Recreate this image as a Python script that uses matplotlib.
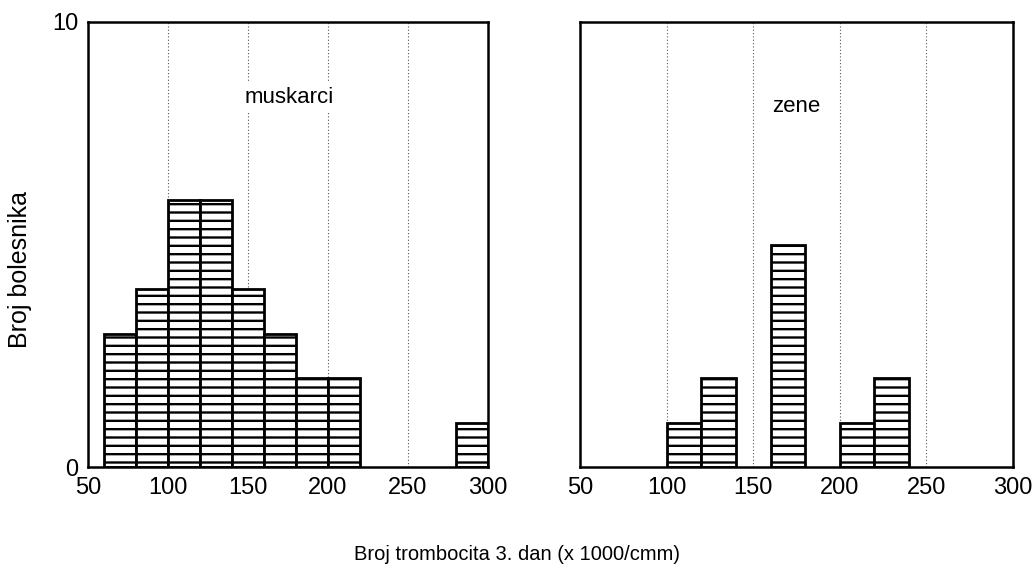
import matplotlib.pyplot as plt
import numpy as np

plt.rcParams['font.family'] = ['Liberation Sans', 'DejaVu Sans']
plt.rcParams['hatch.linewidth'] = 1.7

# bin left edges (x 1000/cmm), width 20
bin_width = 20
men_bins = [60, 80, 100, 120, 140, 160, 180, 200, 280]
men_counts = [3, 4, 6, 6, 4, 3, 2, 2, 1]
women_bins = [100, 120, 160, 200, 220]
women_counts = [1, 2, 5, 1, 2]
xticks = [50, 100, 150, 200, 250, 300]
grid_x = [100, 150, 200, 250]

fig = plt.figure(figsize=(10.34, 5.81), dpi=100)
a1 = fig.add_axes([88/1034, 1-467/581, 400/1034, 445/581])
a2 = fig.add_axes([580/1034, 1-467/581, 433/1034, 445/581])

def panel(ax, bins, counts, label, lx, ly):
    for gx in grid_x:
        ax.axvline(gx, color='#555555', lw=0.8, ls=(0, (1, 2)), zorder=0)
    ax.bar(bins, counts, width=bin_width, align='edge', color='white',
           edgecolor='black', linewidth=2, hatch='--', zorder=2)
    ax.text(lx, ly, label, ha='center', va='center', fontsize=16,
            bbox=dict(facecolor='white', edgecolor='none', pad=3), zorder=3)
    ax.set_xlim(50, 300)
    ax.set_ylim(0, 10)
    ax.set_xticks(xticks)
    ax.tick_params(length=0, labelsize=17, pad=7)
    for s in ax.spines.values():
        s.set_linewidth(1.8)

panel(a1, men_bins, men_counts, 'muskarci', 176, 8.3)
panel(a2, women_bins, women_counts, 'zene', 175, 8.1)

a1.set_yticks([0, 10])
a2.set_yticks([])

fig.text(20/1034, 1-269/581, 'Broj bolesnika', rotation=90, ha='center', va='center', fontsize=18)
fig.text(517/1034, 1-555/581, 'Broj trombocita 3. dan (x 1000/cmm)', ha='center', va='center',
         fontsize=14.5)

fig.savefig('out.png', dpi=100)
